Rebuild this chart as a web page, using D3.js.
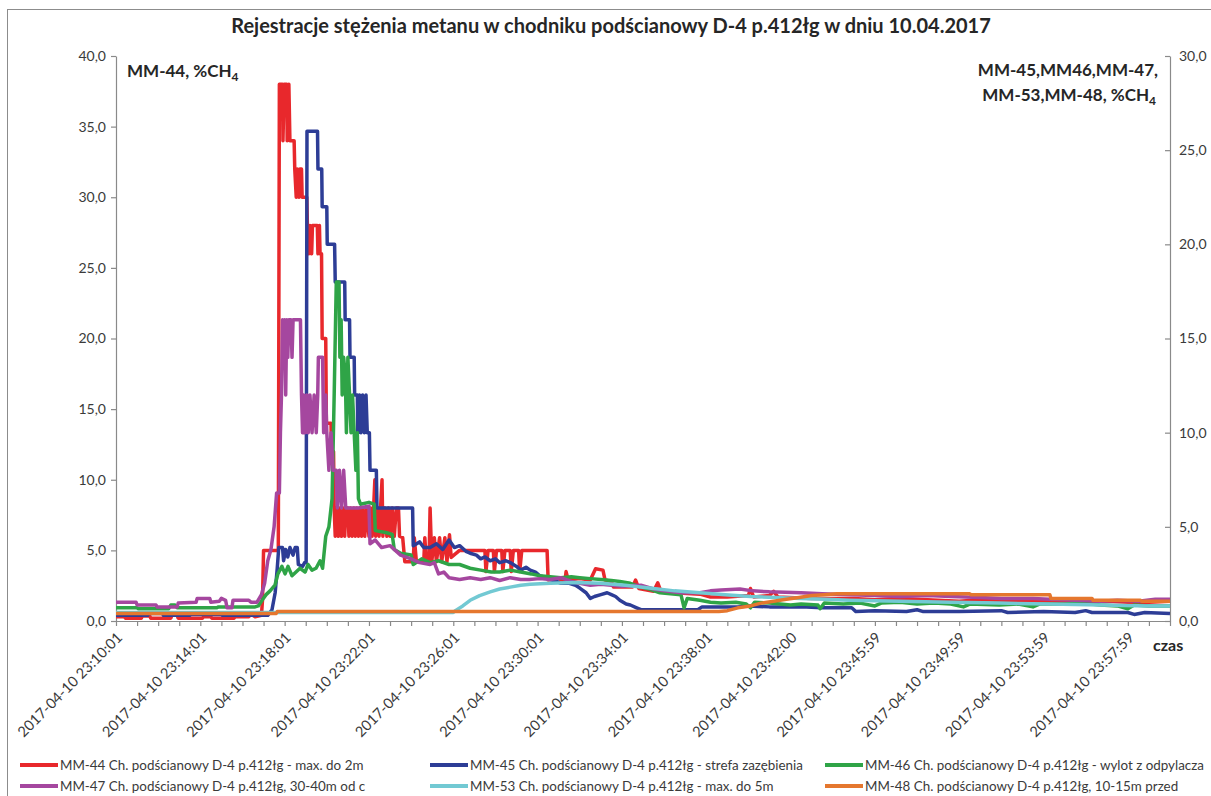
<!DOCTYPE html>
<html>
<head>
<meta charset="utf-8">
<script src="https://cdn.jsdelivr.net/npm/d3@7"></script>
<style>
  body { margin: 0; background: #fff; }
  svg { display: block; }
  text { font-family: Lato, "Open Sans", sans-serif; }
</style>
</head>
<body>
<svg id="chart" width="1211" height="796"></svg>
<script>
// Time axis: minutes after 2017-04-10 23:10:01
const tickMinutes = [0, 4, 8, 12, 16, 20, 24, 28, 32, 36, 40, 44, 48];
const tickLabels = [
  "2017-04-10 23:10:01", "2017-04-10 23:14:01", "2017-04-10 23:18:01",
  "2017-04-10 23:22:01", "2017-04-10 23:26:01", "2017-04-10 23:30:01",
  "2017-04-10 23:34:01", "2017-04-10 23:38:01", "2017-04-10 23:42:00",
  "2017-04-10 23:45:59", "2017-04-10 23:49:59", "2017-04-10 23:53:59",
  "2017-04-10 23:57:59"
];
const leftTicks = [0, 5, 10, 15, 20, 25, 30, 35, 40];
const rightTicks = [0, 5, 10, 15, 20, 25, 30];

const seriesNames = [
  "MM-44 Ch. podścianowy D-4 p.412łg - max. do 2m",
  "MM-45 Ch. podścianowy D-4 p.412łg - strefa zazębienia",
  "MM-46 Ch. podścianowy D-4 p.412łg - wylot z odpylacza",
  "MM-47 Ch. podścianowy D-4 p.412łg, 30-40m od c",
  "MM-53 Ch. podścianowy D-4 p.412łg - max. do 5m",
  "MM-48 Ch. podścianowy D-4 p.412łg, 10-15m przed"
];

// [minute, %CH4] — MM-44 on the left axis
const mm44 = [
  [0,0.3],[0.4,0.3],[0.45,0.2],[1.2,0.2],[1.25,0.35],[1.6,0.35],[1.65,0.2],[2.6,0.2],[2.65,0.4],[2.9,0.4],[2.95,0.2],
  [4.1,0.2],[4.15,0.3],[4.5,0.3],[4.55,0.2],[5.6,0.2],[5.65,0.3],[6.3,0.3],[6.4,0.5],[6.6,0.3],[6.9,0.4],[6.95,1.5],
  [7.0,5.0],[7.7,5.0],[7.75,38],[7.9,38],[7.92,34],[7.98,38],[8.1,38],[8.12,34],[8.2,38],[8.25,34],[8.45,34],
  [8.48,32],[8.55,30],[8.6,32],[8.68,30],[8.72,32],[8.8,32],[8.83,30],[9.05,30],[9.08,28],[9.15,26],[9.2,28],
  [9.28,26],[9.32,28],[9.55,28],[9.58,26],[9.65,28],[9.68,26],[9.75,26],[9.78,20],[9.95,20],[9.98,14],[10.2,14],
  [10.22,12],[10.32,12],[10.35,8],[10.4,6],[10.45,8],[10.55,6],[10.6,8],[10.7,6],[10.78,8],[10.85,6],[10.9,8],
  [11.0,8],[11.05,6],[11.12,8],[11.2,6],[11.28,8],[11.35,6],[11.42,8],[11.5,6],[11.58,8],[11.65,6],[11.72,8],
  [11.8,6],[11.9,8],[12.0,6],[12.08,8],[12.15,6],[12.22,8],[12.28,10],[12.32,6],[12.4,8],[12.48,6],[12.55,8],
  [12.62,10],[12.66,6],[12.75,8],[12.85,6],[12.92,8],[13.0,6],[13.1,8],[13.2,6],[13.3,8],[13.4,8],[13.45,6],
  [13.6,5.9],[13.7,4.2],[14.1,4.2],[14.15,5.9],[14.25,4.2],[14.6,4.2],[14.65,5.9],[14.72,4.2],[14.85,4.2],
  [14.9,8.0],[14.98,4.2],[15.1,5.9],[15.2,4.2],[15.35,5.9],[15.45,4.2],[15.6,5.9],[15.7,4.2],[15.82,6.1],
  [15.9,4.5],[16.3,5.0],[17.5,5.0],[17.55,3.5],[17.65,5.0],[17.9,5.0],[17.95,3.5],[18.05,5.0],[18.3,5.0],
  [18.35,3.5],[18.45,5.0],[18.7,5.0],[18.75,3.5],[18.85,5.0],[19.1,5.0],[19.15,3.5],[19.25,5.0],[20.45,5.0],
  [20.5,2.9],[21.0,3.0],[21.3,2.8],[21.35,3.5],[21.45,2.9],[22.0,3.0],[22.5,2.9],[22.75,3.7],[23.1,3.6],
  [23.2,2.9],[23.5,2.8],[23.6,2.4],[24.5,2.4],[24.65,2.9],[24.8,2.3],[25.5,2.1],[25.7,2.7],[25.85,2.1],
  [26.5,2.0],[27.7,1.9],[28.2,1.7],[29.0,1.7],[30.0,1.8],[30.1,2.3],[30.25,1.7],[31.0,1.8],[31.2,2.1],
  [31.4,1.7],[33.0,1.6],[35.0,1.6],[36.0,1.5],[37.0,1.6],[38.5,1.5],[40.0,1.4],[41.0,1.5],[43.0,1.4],
  [45.0,1.35],[47.0,1.4],[48.5,1.3],[50,1.4]
];

// Remaining sensors on the right axis
const mm45 = [
  [0,0.3],[1.5,0.3],[1.55,0.4],[2.2,0.4],[2.25,0.3],[3.5,0.3],[3.55,0.35],[5.0,0.35],[5.05,0.3],[7.2,0.3],
  [7.4,0.6],[7.55,1.5],[7.65,2.8],[7.72,3.9],[7.9,3.9],[7.95,3.2],[8.05,3.8],[8.15,3.4],[8.25,3.9],[8.4,3.5],
  [8.5,3.9],[8.6,3.9],[8.65,3.0],[8.85,2.9],[8.95,3.1],[9.02,3.1],[9.06,26],[9.56,26],[9.58,24],[9.76,24],
  [9.78,22],[10.0,22],[10.02,20],[10.37,20],[10.4,18],[10.85,18],[10.87,16],[11.08,16],[11.1,14],[11.3,14],
  [11.32,12],[11.45,12],[11.47,10],[11.55,12],[11.62,10],[11.7,12],[11.78,10],[11.86,12],[11.92,10],[12.02,10],
  [12.05,8],[12.35,8],[12.38,6],[14.07,6],[14.1,4.0],[14.4,4.2],[14.6,3.9],[14.9,3.9],[15.2,4.1],[15.5,3.8],
  [15.8,4.3],[16.05,3.9],[16.3,4.0],[16.6,3.7],[16.8,3.6],[17.1,3.5],[17.3,3.3],[17.5,3.4],[17.75,3.2],
  [18.0,3.3],[18.2,3.1],[18.5,3.2],[18.7,3.1],[19.0,2.9],[19.2,2.7],[19.45,2.85],[19.65,2.7],[19.9,2.6],
  [20.1,2.4],[20.4,2.3],[20.6,2.2],[20.9,2.1],[21.1,2.0],[21.5,2.0],[21.8,1.9],[22.0,1.75],[22.3,1.5],
  [22.5,1.2],[22.7,1.3],[23.0,1.4],[23.3,1.5],[23.5,1.4],[23.7,1.3],[23.9,1.1],[24.2,0.9],[24.4,0.85],
  [24.7,0.7],[24.9,0.6],[27.6,0.6],[27.8,0.75],[29.5,0.75],[30.0,0.8],[31.0,0.75],[32.5,0.75],[33.5,0.7],
  [34.9,0.7],[35.1,0.5],[36.0,0.55],[37.5,0.5],[38.0,0.6],[38.3,0.5],[40.0,0.5],[42.0,0.55],[42.3,0.45],
  [44.0,0.5],[45.5,0.45],[46.0,0.55],[46.3,0.45],[48.0,0.45],[48.3,0.35],[48.8,0.45],[50,0.4]
];

const mm46 = [
  [0,0.7],[1.0,0.7],[1.05,0.65],[2.5,0.65],[2.6,0.85],[2.8,0.85],[2.9,0.7],[4.8,0.7],[4.85,0.75],[6.6,0.75],
  [6.75,0.8],[6.93,1.1],[7.12,1.4],[7.31,1.6],[7.54,1.9],[7.68,2.5],[7.87,2.9],[8.02,2.5],[8.16,2.9],[8.35,2.4],
  [8.54,2.6],[8.73,2.8],[8.97,2.6],[9.11,3.0],[9.3,2.7],[9.49,2.8],[9.68,3.2],[9.8,2.8],[9.95,4.5],[10.1,5.0],
  [10.25,6.5],[10.35,12],[10.45,18],[10.58,18],[10.62,14],[10.68,16],[10.73,12],[10.8,14],[10.88,13],[10.93,10],
  [11.0,14],[11.08,12],[11.15,10],[11.22,12],[11.3,10],[11.38,8],[11.45,10],[11.5,6.5],[11.6,6.2],[12.0,6.3],
  [12.25,6.2],[12.3,4.8],[12.8,4.7],[13.1,4.6],[13.2,3.8],[13.5,3.6],[14.0,3.5],[14.1,3.0],[14.5,3.3],[14.9,3.1],
  [15.3,3.2],[15.8,3.0],[16.3,3.0],[16.8,2.8],[17.3,2.7],[17.8,2.6],[18.2,2.6],[18.7,2.7],[19.2,2.6],[19.7,2.5],
  [20.1,2.4],[20.6,2.35],[21.1,2.3],[21.6,2.35],[22.0,2.3],[22.5,2.25],[23.0,2.2],[23.5,2.15],[23.9,2.1],
  [24.4,2.0],[24.9,1.8],[25.3,1.7],[25.8,1.5],[26.3,1.45],[26.8,1.4],[26.95,0.7],[27.1,1.2],[27.7,1.1],
  [28.2,1.0],[28.7,0.95],[29.4,1.0],[29.9,0.9],[30.1,0.7],[30.3,1.0],[31.0,0.95],[31.5,0.9],[32.0,0.85],
  [32.5,0.9],[33.3,0.85],[33.4,0.65],[33.6,0.95],[34.5,0.9],[35.3,0.95],[36.0,0.8],[36.3,0.95],[37.2,1.0],
  [38.0,0.9],[38.8,0.95],[39.6,0.9],[40.2,0.75],[40.5,0.9],[41.9,0.85],[42.8,0.9],[43.5,0.75],[43.8,0.9],
  [45.0,0.9],[45.8,0.95],[46.7,0.85],[47.5,0.8],[48.0,0.65],[48.3,0.85],[49.0,0.8],[50,0.8]
];

const mm47 = [
  [0,1.0],[0.95,1.0],[1.0,0.85],[1.9,0.85],[1.95,0.75],[2.9,0.75],[2.95,0.95],[3.8,1.0],[3.85,1.2],[4.45,1.2],
  [4.5,1.0],[4.9,1.05],[5.0,1.2],[5.2,1.1],[5.27,0.7],[5.5,0.7],[5.55,1.1],[6.3,1.1],[6.4,1.0],[6.69,1.0],
  [6.9,1.4],[7.05,2.0],[7.2,3.2],[7.35,3.8],[7.5,5.0],[7.62,6.8],[7.75,6.8],[7.8,10],[7.85,12],[7.9,16],
  [7.95,14],[8.0,16],[8.05,12],[8.1,16],[8.15,14],[8.2,16],[8.3,16],[8.35,14],[8.4,16],[8.75,16],[8.8,12],
  [8.85,10],[8.9,12],[8.97,10],[9.05,12],[9.12,10],[9.2,12],[9.3,10],[9.4,12],[9.5,10],[9.57,12],[9.6,14],
  [9.8,14],[9.85,10],[9.95,12],[10.0,10],[10.1,8],[10.2,10],[10.3,8],[10.45,8],[10.5,6],[10.6,8],[10.7,6],
  [10.8,8],[10.9,6],[11.5,6],[12.0,6.1],[12.05,4.1],[12.3,4.3],[12.6,3.9],[13.0,4.0],[13.5,3.5],[14.0,3.3],
  [14.4,3.1],[14.9,3.0],[15.1,3.1],[15.3,2.5],[15.55,2.6],[15.8,2.3],[16.3,2.2],[16.8,2.3],[17.3,2.2],
  [17.75,2.3],[18.2,2.15],[18.7,2.3],[19.2,2.2],[19.6,2.2],[20.1,2.25],[20.6,2.2],[21.1,2.3],[21.6,2.1],
  [22.0,2.0],[22.5,1.9],[23.0,1.95],[23.5,1.9],[24.0,1.85],[24.9,1.9],[25.5,1.7],[26.0,1.6],[26.8,1.5],
  [27.7,1.5],[28.2,1.6],[28.7,1.65],[29.6,1.7],[30.2,1.6],[31.0,1.55],[32.5,1.5],[33.5,1.45],[34.8,1.4],
  [36.0,1.35],[37.2,1.3],[38.5,1.35],[39.6,1.3],[41.0,1.25],[42.0,1.2],[43.5,1.2],[44.3,1.15],[45.5,1.1],
  [46.7,1.05],[47.5,1.1],[48.5,1.05],[49.3,1.15],[50,1.15]
];

const mm53 = [
  [0,0.45],[16.0,0.45],[16.1,0.55],[16.45,0.8],[16.8,1.1],[17.25,1.35],[17.75,1.55],[18.2,1.7],[18.7,1.8],
  [19.2,1.9],[19.65,1.95],[20.6,2.0],[21.8,2.05],[23.0,2.0],[24.15,1.9],[25.3,1.75],[26.5,1.6],[27.7,1.5],
  [28.9,1.4],[30.1,1.3],[31.3,1.25],[32.5,1.2],[33.7,1.15],[34.8,1.1],[37.2,1.05],[39.6,1.0],[41.9,0.95],
  [44.3,0.9],[46.7,0.85],[49.0,0.8],[50,0.8]
];

const mm48 = [
  [0,0.4],[7.6,0.4],[7.65,0.5],[28.6,0.5],[29.0,0.55],[29.5,0.7],[30.1,0.8],[30.6,0.95],[31.2,1.05],[31.8,1.15],
  [32.4,1.25],[33.0,1.35],[33.6,1.4],[34.2,1.45],[40.5,1.45],[40.55,1.4],[44.3,1.4],[44.35,1.2],[46.3,1.2],
  [46.35,1.1],[48.6,1.1],[48.65,1.05],[50,1.05]
];

const seriesColors = ["#e8282c", "#2d3d96", "#2fa447", "#a5479f", "#72c9d3", "#e5772e"];

// ---- layout ----
const plot = { left: 116, right: 1170, top: 56, bottom: 621 };
const svg = d3.select("#chart");
const axisGrey = "#8a8a8a";
const textCol = "#3a3a3a";

svg.append("rect")
  .attr("x", 7.5).attr("y", 9.5).attr("width", 1300).attr("height", 900)
  .attr("fill", "#fff").attr("stroke", "#8c8c8c").attr("stroke-width", 1);

const x = d3.scaleLinear().domain([0, 50]).range([plot.left, plot.right]);
const yL = d3.scaleLinear().domain([0, 40]).range([plot.bottom, plot.top]);
const yR = d3.scaleLinear().domain([0, 30]).range([plot.bottom, plot.top]);
const fmt = d => d3.format(".1f")(d).replace(".", ",");

// title
svg.append("text")
  .attr("x", 611).attr("y", 33)
  .attr("text-anchor", "middle")
  .attr("font-size", 20).attr("font-weight", "bold").attr("fill", "#262626")
  .text("Rejestracje stężenia metanu w chodniku podścianowy D-4 p.412łg w dniu 10.04.2017");

// left axis
const gL = svg.append("g").attr("transform", `translate(${plot.left},0)`)
  .call(d3.axisLeft(yL).tickValues(leftTicks).tickFormat(fmt).tickSize(5).tickSizeOuter(0).tickPadding(5));
// right axis (ticks point into the plot)
const gR = svg.append("g").attr("transform", `translate(${plot.right},0)`)
  .call(d3.axisRight(yR).tickValues(rightTicks).tickFormat(fmt).tickSizeInner(-5).tickSizeOuter(0).tickPadding(9));
// bottom axis, one tick per minute
const labelOf = new Map(tickMinutes.map((m, i) => [m, tickLabels[i]]));
const gX = svg.append("g").attr("transform", `translate(0,${plot.bottom})`)
  .call(d3.axisBottom(x).tickValues(d3.range(0, 51)).tickFormat(d => labelOf.get(d) || "")
    .tickSize(5).tickSizeOuter(0));

[gL, gR, gX].forEach(g => {
  g.select(".domain").attr("stroke", axisGrey).attr("stroke-width", 1.2);
  g.selectAll(".tick line").attr("stroke", axisGrey).attr("stroke-width", 1.2);
  g.selectAll(".tick text").attr("font-family", "Lato, 'Open Sans', sans-serif")
    .attr("font-size", 14).attr("fill", textCol);
});
gX.selectAll(".tick text")
  .attr("x", 0).attr("y", 0).attr("dy", "0.35em")
  .attr("text-anchor", "end")
  .attr("font-size", 14.6)
  .attr("transform", "translate(3,14) rotate(-45)");

// axis titles
const lt = svg.append("text").attr("x", 127).attr("y", 77)
  .attr("font-size", 17).attr("font-weight", "bold").attr("fill", "#262626");
lt.append("tspan").text("MM-44, %CH");
lt.append("tspan").attr("font-size", 12).attr("dy", 4).text("4");

svg.append("text").attr("x", 1158).attr("y", 76).attr("text-anchor", "end")
  .attr("font-size", 17).attr("font-weight", "bold").attr("fill", "#262626")
  .text("MM-45,MM46,MM-47,");
const rt = svg.append("text").attr("x", 1156).attr("y", 101).attr("text-anchor", "end")
  .attr("font-size", 17).attr("font-weight", "bold").attr("fill", "#262626");
rt.append("tspan").text("MM-53,MM-48, %CH");
rt.append("tspan").attr("font-size", 12).attr("dy", 4).text("4");

svg.append("text").attr("x", 1153).attr("y", 651)
  .attr("font-size", 16).attr("font-weight", "bold").attr("fill", "#262626")
  .text("czas");

// series
const lineL = d3.line().x(d => x(d[0])).y(d => yL(d[1]));
const lineR = d3.line().x(d => x(d[0])).y(d => yR(d[1]));
const series = [
  { data: mm44, line: lineL }, { data: mm45, line: lineR }, { data: mm46, line: lineR },
  { data: mm47, line: lineR }, { data: mm53, line: lineR }, { data: mm48, line: lineR }
];
svg.append("g").selectAll("path").data(series).join("path")
  .attr("d", d => d.line(d.data))
  .attr("fill", "none")
  .attr("stroke", (d, i) => seriesColors[i])
  .attr("stroke-width", 3.5)
  .attr("stroke-linejoin", "round");

// legend: three columns, two rows
const legCols = [20, 430, 825];
const legRows = [765, 786];
const leg = svg.append("g").selectAll("g").data(seriesNames).join("g")
  .attr("transform", (d, i) => `translate(${legCols[i % 3]},${legRows[Math.floor(i / 3)]})`);
leg.append("line").attr("x1", 0).attr("x2", 38).attr("y1", 0).attr("y2", 0)
  .attr("stroke", (d, i) => seriesColors[i]).attr("stroke-width", 4);
leg.append("text").attr("x", 40).attr("y", 0).attr("dy", "0.35em")
  .attr("font-size", 13.4).attr("fill", textCol).text(d => d);
</script>
</body>
</html>
